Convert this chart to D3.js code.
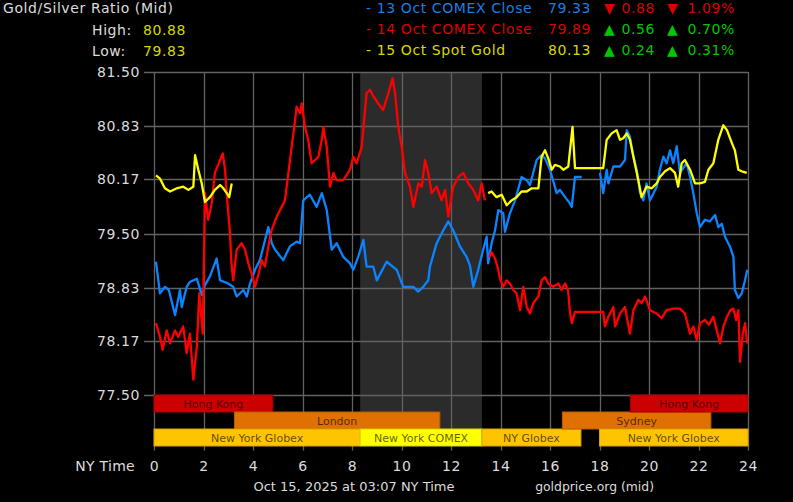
<!DOCTYPE html>
<html>
<head>
<meta charset="utf-8">
<script src="https://cdn.jsdelivr.net/npm/d3@7"></script>
<style>
  body { margin: 0; background: #000; }
  svg { display: block; }
  text { font-family: "DejaVu Sans", Verdana, sans-serif; }
</style>
</head>
<body>
<div class="ratioChart"></div>
<script>
// chart values
var yTicks = [77.50, 78.17, 78.83, 79.50, 80.17, 80.83, 81.50];
var xTicks = [0, 2, 4, 6, 8, 10, 12, 14, 16, 18, 20, 22, 24];

// 13 Oct COMEX close (blue), [hour, ratio]
var oct13 = [[0.08,79.15],[0.24,78.76],[0.45,78.84],[0.6,78.8],[0.85,78.49],[1.05,78.80],[1.12,78.59],[1.32,78.84],[1.45,78.90],[1.73,78.94],[1.93,78.74],
  [2.06,78.86],[2.26,78.97],[2.53,79.19],[2.67,78.92],[2.94,78.89],[3.2,78.84],[3.34,78.72],[3.61,78.80],[3.75,78.72],[3.88,78.88],
  [4.08,79.05],[4.28,79.17],[4.62,79.58],[4.76,79.38],[4.89,79.30],[5.22,79.17],[5.49,79.34],[5.76,79.40],[5.9,79.38],[6.03,79.91],
  [6.3,79.98],[6.57,79.83],[6.78,80.00],[6.98,79.79],[7.18,79.30],[7.38,79.38],[7.65,79.21],[7.92,79.13],[8.05,79.05],[8.25,79.21],
  [8.46,79.42],[8.59,79.09],[8.86,79.09],[9.0,78.92],[9.4,79.15],[9.81,79.05],[10.07,78.84],[10.48,78.84],[10.67,78.78],[10.88,78.84],
  [11.08,78.92],[11.15,79.09],[11.42,79.38],[11.69,79.54],[11.89,79.65],[12.09,79.54],[12.36,79.34],[12.63,79.21],[12.77,79.10],[12.9,78.84],
  [13.1,79.05],[13.3,79.30],[13.44,79.46],[13.5,79.13],[13.64,79.38],[13.78,79.54],[13.91,79.79],[14.11,79.75],[14.18,79.52],[14.38,79.75],
  [14.59,79.91],[14.85,80.20],[15.06,80.16],[15.19,80.10],[15.46,80.41],[15.66,80.47],[15.8,80.43],[16.0,80.29],[16.27,80.00],[16.4,80.04],
  [16.61,79.95],[16.81,79.87],[16.88,79.83],[17.01,80.20],[17.28,80.20],[17.6,null],
  [18.02,80.25],[18.15,80.00],[18.29,80.29],[18.36,80.12],[18.56,80.33],[18.83,80.33],[19.03,80.41],[19.1,80.78],[19.23,80.70],[19.37,80.45],
  [19.5,80.29],[19.64,80.00],[19.77,79.91],[19.9,80.12],[20.04,79.91],[20.31,80.08],[20.44,80.29],[20.58,80.45],[20.71,80.37],[20.85,80.53],
  [20.98,80.37],[21.12,80.58],[21.25,80.25],[21.52,80.37],[21.66,80.20],[21.79,80.00],[21.93,79.75],[22.06,79.58],[22.26,79.67],[22.46,79.65],
  [22.67,79.73],[22.8,79.58],[22.94,79.62],[23.07,79.46],[23.27,79.34],[23.41,79.21],[23.47,78.80],[23.61,78.70],[23.75,78.76],[23.88,78.92],[23.97,79.05]];

// 14 Oct COMEX close (red)
var oct14 = [[0.08,78.39],[0.24,78.22],[0.35,78.06],[0.51,78.30],[0.65,78.14],[0.85,78.30],[0.98,78.22],[1.18,78.35],[1.32,78.02],[1.45,78.26],
  [1.59,77.69],[1.73,78.10],[1.83,78.76],[1.97,78.26],[2.06,80.00],[2.19,79.67],[2.33,79.87],[2.46,80.25],[2.67,80.41],[2.78,80.49],
  [2.87,80.29],[2.96,79.91],[3.07,79.50],[3.13,79.13],[3.2,78.92],[3.34,79.30],[3.54,79.38],[3.68,79.30],[3.81,79.13],[3.95,79.00],
  [4.08,78.84],[4.21,78.98],[4.35,79.17],[4.48,79.09],[4.62,79.34],[4.75,79.54],[4.96,79.71],[5.16,79.83],[5.29,79.91],[5.43,80.25],
  [5.56,80.57],[5.7,80.90],[5.76,81.07],[5.9,80.99],[5.97,81.11],[6.1,80.82],[6.23,80.66],[6.37,80.37],[6.51,80.41],[6.64,80.45],
  [6.78,80.66],[6.84,80.82],[6.98,80.57],[7.11,80.08],[7.25,80.25],[7.38,80.16],[7.65,80.16],[7.92,80.29],[8.05,80.45],[8.19,80.37],
  [8.39,80.57],[8.59,81.24],[8.73,81.28],[8.86,81.20],[9.06,81.11],[9.26,81.03],[9.47,81.24],[9.64,81.42],[9.74,81.24],[9.87,80.82],
  [10.01,80.57],[10.14,80.25],[10.34,80.08],[10.48,79.83],[10.68,80.12],[10.82,80.08],[10.95,80.41],[11.08,80.25],[11.22,80.00],[11.42,80.08],
  [11.62,79.91],[11.76,80.04],[11.89,79.71],[12.09,80.08],[12.3,80.20],[12.5,80.25],[12.7,80.12],[12.9,80.04],[13.1,79.91],[13.24,80.12],
  [13.37,79.91],[13.46,null],
  [13.55,79.21],[13.64,79.27],[13.78,79.19],[13.91,79.05],[13.98,78.94],[14.11,78.84],[14.25,78.92],[14.38,78.88],[14.52,78.80],[14.65,78.76],
  [14.79,78.55],[14.92,78.84],[15.06,78.59],[15.19,78.51],[15.33,78.64],[15.53,78.72],[15.66,78.92],[15.8,78.96],[15.93,78.88],[16.13,78.84],
  [16.34,78.88],[16.47,78.80],[16.61,78.88],[16.73,78.80],[16.81,78.51],[16.88,78.39],[17.01,78.53],[18.15,78.53],[18.22,78.35],[18.36,78.47],
  [18.56,78.59],[18.63,78.35],[18.83,78.51],[19.03,78.59],[19.11,78.45],[19.23,78.26],[19.37,78.55],[19.57,78.68],[19.7,78.64],[19.84,78.72],
  [20.04,78.55],[20.31,78.51],[20.51,78.45],[20.71,78.55],[20.98,78.57],[21.25,78.57],[21.45,78.51],[21.66,78.26],[21.79,78.35],[21.93,78.18],
  [22.06,78.39],[22.26,78.43],[22.42,78.37],[22.6,78.47],[22.74,78.30],[22.87,78.14],[23.01,78.35],[23.15,78.47],[23.29,78.55],[23.41,78.57],
  [23.52,78.43],[23.61,78.55],[23.68,77.91],[23.79,78.26],[23.88,78.39],[23.97,78.14]];

// 15 Oct spot gold (yellow)
var oct15 = [[0.08,80.22],[0.24,80.18],[0.44,80.06],[0.65,80.02],[0.92,80.06],[1.18,80.08],[1.39,80.04],[1.59,80.08],[1.66,80.47],[1.79,80.29],
  [1.93,80.12],[2.06,79.89],[2.26,79.95],[2.46,80.04],[2.67,80.10],[2.8,80.06],[2.94,80.00],[3.04,79.95],[3.14,80.12],[3.3,null],
  [13.5,80.00],[13.64,80.02],[13.84,79.95],[14.05,79.98],[14.25,79.85],[14.45,79.91],[14.65,79.95],[14.85,80.02],[15.06,80.02],[15.26,80.06],
  [15.53,80.06],[15.66,80.45],[15.8,80.53],[15.93,80.43],[16.07,80.29],[16.2,80.35],[16.4,80.33],[16.54,80.29],[16.74,80.33],[16.91,80.82],
  [17.01,80.31],[18.15,80.31],[18.29,80.66],[18.49,80.74],[18.69,80.78],[18.83,80.66],[18.96,80.68],[19.1,80.74],[19.23,80.66],[19.37,80.45],
  [19.57,80.16],[19.7,79.95],[19.9,80.08],[20.11,80.06],[20.31,80.12],[20.44,80.20],[20.65,80.27],[20.85,80.31],[21.05,80.25],[21.18,80.08],
  [21.32,80.37],[21.45,80.41],[21.66,80.29],[21.86,80.12],[22.06,80.12],[22.26,80.14],[22.4,80.29],[22.6,80.37],[22.8,80.66],[23.0,80.84],
  [23.15,80.78],[23.35,80.62],[23.47,80.53],[23.61,80.29],[23.75,80.27],[23.95,80.25]];

// trading sessions: [name, start hour, end hour, row]
var sessionNames = ["Hong Kong", "London", "New York Globex", "New York COMEX", "NY Globex", "Sydney", "Hong Kong", "New York Globex"];
var sessionStart = [0, 3.25, 0, 8.33, 13.25, 16.5, 19.25, 18];
var sessionEnd = [4.8, 11.55, 8.33, 13.25, 17.25, 22.5, 24, 24];
var sessionRow = [0, 1, 2, 2, 2, 1, 0, 2];
var comexHours = [8.33, 13.25];

var legendLabels = ["- 13 Oct COMEX Close", "- 14 Oct COMEX Close", "- 15 Oct Spot Gold"];
var legendValues = ["79.33", "79.89", "80.13"];
var legendChange = ["0.88", "0.56", "0.24"];
var legendPct = ["1.09%", "0.70%", "0.31%"];
var legendUp = [false, true, true];

(function () {
    var width = 793, height = 502;
    var plotLeft = 154, plotRight = 748, plotTop = 72, yBottom = 395;
    var rowH = 17;
    var barsBottom = yBottom + rowH * 3 - 0.5;

    var svg = d3.select(".ratioChart").append("svg")
        .attr("width", width).attr("height", height);
    svg.append("rect").attr("width", width).attr("height", height).attr("fill", "#000");

    var x = d3.scaleLinear().domain([0, 24]).range([plotLeft, plotRight]);
    var y = d3.scaleLinear().domain([77.5, 81.5]).range([yBottom, plotTop]);

    // COMEX hours shading
    svg.append("rect")
        .attr("x", x(comexHours[0])).attr("y", plotTop)
        .attr("width", x(comexHours[1]) - x(comexHours[0]))
        .attr("height", barsBottom - plotTop)
        .attr("fill", "#2b2b2b");

    /*
        Grid
    */
    svg.append("g").selectAll("line").data(yTicks).enter().append("line")
        .attr("x1", plotLeft - 10).attr("x2", plotRight)
        .attr("y1", function (d) { return Math.round(y(d)) + 0.5; })
        .attr("y2", function (d) { return Math.round(y(d)) + 0.5; })
        .attr("stroke", "#626262").attr("stroke-width", 1.3);
    svg.append("g").selectAll("line").data(xTicks).enter().append("line")
        .attr("x1", function (d) { return Math.round(x(d)) + 0.5; })
        .attr("x2", function (d) { return Math.round(x(d)) + 0.5; })
        .attr("y1", plotTop).attr("y2", barsBottom + 5)
        .attr("stroke", "#626262").attr("stroke-width", 1.3);

    svg.append("g").selectAll("text").data(yTicks).enter().append("text")
        .attr("x", 140).attr("y", function (d) { return y(d) + 5; })
        .attr("text-anchor", "end")
        .attr("fill", "#dcdcdc").attr("font-size", 14).attr("letter-spacing", 0.6)
        .text(function (d) { return d3.format(".2f")(d); });

    svg.append("g").selectAll("text").data(xTicks).enter().append("text")
        .attr("x", function (d) { return x(d) + 0.5; }).attr("y", 471)
        .attr("text-anchor", "middle")
        .attr("fill", "#dcdcdc").attr("font-size", 14).attr("letter-spacing", 0.6)
        .text(function (d) { return d; });
    svg.append("text").attr("x", 135).attr("y", 471).attr("text-anchor", "end")
        .attr("fill", "#dcdcdc").attr("font-size", 14).attr("letter-spacing", 0.3)
        .text("NY Time");

    /*
        Sessions
    */
    var sessionColor = function (name) {
        if (name == "Hong Kong") return ["#cc0000", "#a80000"];
        if (name == "London" || name == "Sydney") return ["#e07000", "#b85c00"];
        if (name == "New York COMEX") return ["#ffff00", "#d8d800"];
        return ["#ffc400", "#d8a200"];
    };
    var sessions = sessionNames.map(function (n, i) {
        return { name: n, start: sessionStart[i], end: sessionEnd[i], row: sessionRow[i] };
    });
    var sg = svg.append("g").selectAll("g").data(sessions).enter().append("g");
    sg.append("rect")
        .attr("x", function (d) { return x(d.start); })
        .attr("y", function (d) { return yBottom + d.row * rowH; })
        .attr("width", function (d) { return x(d.end) - x(d.start); })
        .attr("height", rowH)
        .attr("fill", function (d) { return sessionColor(d.name)[0]; })
        .attr("stroke", function (d) { return sessionColor(d.name)[1]; })
        .attr("stroke-width", 1);
    sg.append("text")
        .attr("x", function (d) { return (x(d.start) + x(d.end)) / 2; })
        .attr("y", function (d) { return yBottom + d.row * rowH + 12.5; })
        .attr("text-anchor", "middle")
        .attr("font-size", 11).attr("fill", "#000").attr("fill-opacity", 0.65)
        .text(function (d) { return d.name; });

    /*
        Lines
    */
    var line = d3.line()
        .defined(function (d) { return d[1] != null; })
        .x(function (d) { return x(d[0]); })
        .y(function (d) { return y(d[1]); });
    var series = [[oct13, "#0a84ff"], [oct14, "#ff0000"], [oct15, "#ffff00"]];
    svg.append("g").selectAll("path").data(series).enter().append("path")
        .attr("d", function (d) { return line(d[0]); })
        .attr("fill", "none")
        .attr("stroke", function (d) { return d[1]; })
        .attr("stroke-width", 2.3)
        .attr("stroke-linejoin", "round");

    /*
        Header
    */
    var hdr = svg.append("g").attr("font-size", 14).attr("letter-spacing", 0.6);
    hdr.append("text").attr("x", 3).attr("y", 13).attr("fill", "#dcdcdc").text("Gold/Silver Ratio (Mid)");
    hdr.append("text").attr("x", 92).attr("y", 35).attr("fill", "#dcdcdc").text("High:");
    hdr.append("text").attr("x", 143).attr("y", 35).attr("fill", "#d8d800").text("80.88");
    hdr.append("text").attr("x", 92).attr("y", 56).attr("fill", "#dcdcdc").text("Low:");
    hdr.append("text").attr("x", 143).attr("y", 56).attr("fill", "#d8d800").text("79.83");

    var legendColors = ["#1a7fe0", "#dd0000", "#d8d800"];
    legendLabels.forEach(function (lbl, i) {
        var by = 12.5 + i * 21;
        var chg = legendUp[i] ? "#00c800" : "#dd0000";
        var arrow = legendUp[i] ? "\u25B2" : "\u25BC";
        hdr.append("text").attr("x", 366).attr("y", by).attr("fill", legendColors[i]).text(lbl);
        hdr.append("text").attr("x", 591).attr("y", by).attr("text-anchor", "end").attr("fill", legendColors[i]).text(legendValues[i]);
        hdr.append("text").attr("x", 604).attr("y", by).attr("fill", chg).attr("font-size", 14).attr("letter-spacing", 0).text(arrow);
        hdr.append("text").attr("x", 655).attr("y", by).attr("text-anchor", "end").attr("fill", chg).text(legendChange[i]);
        hdr.append("text").attr("x", 667).attr("y", by).attr("fill", chg).attr("font-size", 14).attr("letter-spacing", 0).text(arrow);
        hdr.append("text").attr("x", 735).attr("y", by).attr("text-anchor", "end").attr("fill", chg).text(legendPct[i]);
    });

    /*
        Footer
    */
    svg.append("text").attr("x", 354).attr("y", 491).attr("text-anchor", "middle")
        .attr("fill", "#dcdcdc").attr("font-size", 13)
        .text("Oct 15, 2025 at 03:07 NY Time");
    svg.append("text").attr("x", 654).attr("y", 491).attr("text-anchor", "end")
        .attr("fill", "#dcdcdc").attr("font-size", 12.4)
        .text("goldprice.org (mid)");
})();
</script>
</body>
</html>
